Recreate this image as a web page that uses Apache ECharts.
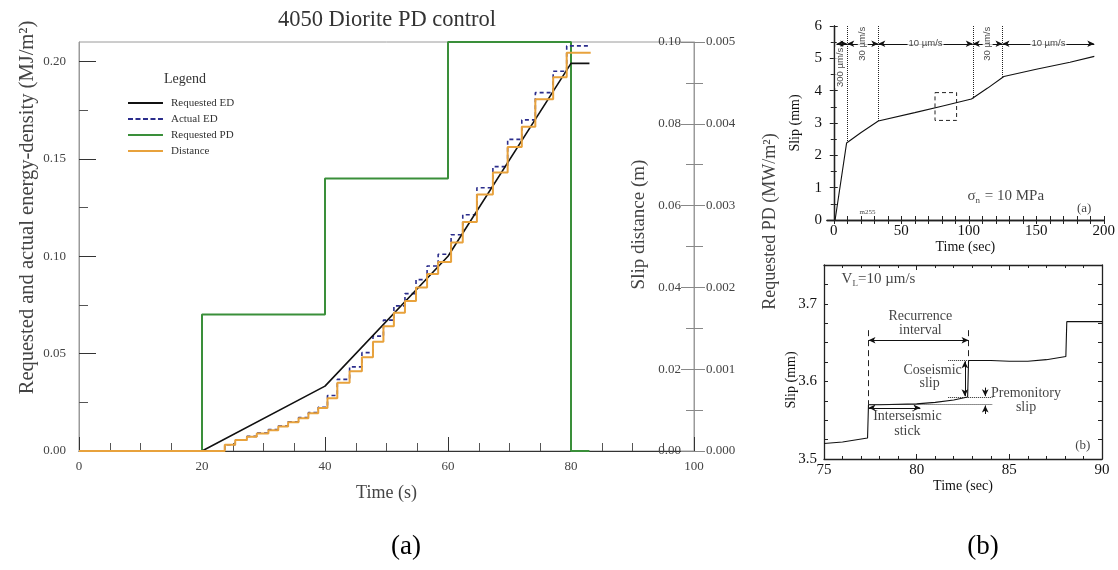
<!DOCTYPE html>
<html>
<head>
<meta charset="utf-8">
<title>4050 Diorite PD control</title>
<script src="https://cdn.jsdelivr.net/npm/echarts@6/dist/echarts.min.js"></script>
<style>
  html, body { margin: 0; padding: 0; background: #fff; }
  #chart { width: 1118px; height: 570px; }
</style>
</head>
<body>
<div id="chart"></div>
<script>
// ---------- (a) 4050 Diorite PD control ----------
var pdTime = [0, 20, 40, 60, 80, 83];
var pdValue = [0, 0.00167, 0.00333, 0.005, 0, 0];          // MW/m2
var edTime = [0, 20, 40, 60, 80, 83];
var edValue = [0, 0, 0.0333, 0.1, 0.199, 0.199];           // requested ED, MJ/m2
// stick-slip steps (time the step happens)
var stepTime = [0, 23.7, 25.4, 27.3, 28.9, 30.8, 32.4, 34.0, 35.7, 37.3, 38.9, 40.4, 42.0, 44.0, 46.0,
  47.8, 49.5, 51.2, 53.0, 54.8, 56.6, 58.4, 60.5, 62.4, 64.7, 67.3, 69.7, 72.0, 74.2, 77.1, 79.3, 83.2];
var actualEd = [0, 0.0032, 0.0057, 0.0075, 0.0092, 0.0110, 0.0128, 0.0150, 0.0172, 0.0198, 0.0225, 0.0285,
  0.0368, 0.0432, 0.0505, 0.0590, 0.0672, 0.0745, 0.0808, 0.0880, 0.0950, 0.1010, 0.1110, 0.1213, 0.1352,
  0.1460, 0.1600, 0.1700, 0.1840, 0.1950, 0.2080, 0.2080];
var distanceM = [0, 0.0015, 0.0027, 0.0035, 0.0043, 0.0051, 0.0060, 0.0070, 0.0080, 0.0092, 0.0105, 0.0129,
  0.0167, 0.0195, 0.0229, 0.0267, 0.0305, 0.0338, 0.0367, 0.0400, 0.0433, 0.0462, 0.0510, 0.0560, 0.0627,
  0.0681, 0.0743, 0.0793, 0.0860, 0.0914, 0.0974, 0.0974];
var edTicks = [0, 0.05, 0.1, 0.15, 0.2];
var edMinorTicks = [0.025, 0.075, 0.125, 0.175];

// ---------- (b) upper: slip history ----------
var runTime = [1, 9.5, 20, 33, 60, 80, 102, 114, 126, 150, 175, 193];
var runSlip = [0, 2.38, 2.7, 3.06, 3.32, 3.52, 3.74, 4.08, 4.44, 4.66, 4.88, 5.06];
var velChangeTime = [10, 33, 103, 125];
var velChangeSlip = [2.4, 3.06, 3.76, 4.43];
var velRow = 5.45;
var velSegStart = [2, 10, 33, 103, 125];
var velSegEnd = [10, 33, 103, 125, 193];
var velLabel = ['300 µm/s', '30 µm/s', '10 µm/s', '30 µm/s', '10 µm/s'];
var velLabelX = [4.8, 21.5, 68, 114, 159];
var velLabelY = [4.72, 5.45, 5.45, 5.45, 5.45];
var velLabelRotate = [90, 90, 0, 90, 0];
var runLabels = [0, 50, 100, 150, 200];
var runTicks = [0, 10, 20, 30, 40, 50, 60, 70, 80, 90, 100, 110, 120, 130, 140, 150, 160, 170, 180, 190, 200];
var boxTime = [75, 91];
var boxSlip = [3.08, 3.94];

// ---------- (b) lower: zoom on stick-slip ----------
var zoomTime = [75, 76, 77.35, 77.4, 78, 80, 81, 82, 82.75, 82.8, 84, 85, 86, 87, 88.05, 88.1, 90];
var zoomSlip = [3.520, 3.522, 3.527, 3.570, 3.570, 3.571, 3.573, 3.576, 3.580, 3.627, 3.627, 3.626, 3.626,
  3.628, 3.632, 3.677, 3.677];
var zoomYLabels = [3.5, 3.6, 3.7];
var zoomYTicks = [3.5, 3.525, 3.55, 3.575, 3.6, 3.625, 3.65, 3.675, 3.7, 3.725, 3.75];
var noteText = ['Recurrence', 'interval', 'Coseismic', 'slip', 'Premonitory', 'slip', 'Interseismic', 'stick', '(b)'];
var noteX = [80.2, 80.2, 80.86, 80.7, 85.9, 85.9, 79.5, 79.5, 88.96];
var noteY = [3.684, 3.666, 3.614, 3.597, 3.584, 3.566, 3.5545, 3.536, 3.517];

var SERIF = 'Liberation Serif';
var SANS = 'Liberation Sans';

// legend icons: thin line (solid / dashed) inside a 35x12 box
var BOX = ' M0,0h0.01v0.01h-0.01z M34.99,12h0.01v0.01h-0.01z';
var ICON_SOLID = 'path://M0,5h35v2h-35z' + BOX;
var ICON_DASH = 'path://M0,5h5v2h-5z M7.5,5h5v2h-5z M15,5h5v2h-5z M22.5,5h5v2h-5z M30,5h5v2h-5z' + BOX;

function zip(xs, ys) {
  return xs.map(function (x, i) { return [x, ys[i]]; });
}

function seg(x1, y1, x2, y2, style, s1, s2) {
  return [
    { coord: [x1, y1], symbol: s1 || 'none', lineStyle: style },
    { coord: [x2, y2], symbol: s2 || 'none', lineStyle: style }
  ];
}

var dotted = { type: 'dotted', width: 1, color: '#222' };
var dashedLong = { type: [6, 4], width: 1, color: '#222' };
var solid = { type: 'solid', width: 1, color: '#111' };

// upper (b) annotation lines
var runLines = [];
velChangeTime.forEach(function (t, i) {
  runLines.push(seg(t, 6, t, velChangeSlip[i], dotted));
});
velSegStart.forEach(function (s, i) {
  runLines.push(seg(s, velRow, velSegEnd[i], velRow, solid, 'arrow', 'arrow'));
});

// lower (b) annotation lines
var zoomLines = [
  seg(77.4, 3.666, 77.4, 3.570, dashedLong),
  seg(82.8, 3.666, 82.8, 3.627, dashedLong),
  seg(77.4, 3.653, 82.8, 3.653, solid, 'arrow', 'arrow'),
  seg(81.7, 3.627, 82.8, 3.627, dotted),
  seg(81.7, 3.580, 84.1, 3.580, dotted),
  seg(77.4, 3.570, 84.1, 3.570, dotted),
  seg(82.6, 3.581, 82.6, 3.626, solid, 'arrow', 'arrow'),
  seg(83.7, 3.592, 83.7, 3.581, solid, 'none', 'arrow'),
  seg(83.7, 3.558, 83.7, 3.569, solid, 'none', 'arrow'),
  seg(77.4, 3.566, 80.2, 3.566, solid, 'arrow', 'arrow')
];

var velNotes = velLabel.map(function (txt, i) {
  return {
    name: txt,
    value: [velLabelX[i], velLabelY[i]],
    label: { rotate: velLabelRotate[i], fontFamily: SANS, fontSize: 9.5, backgroundColor: '#fff', padding: [0, 1] }
  };
});
velNotes.push({
  name: 'sigma', value: [99, 0.73],
  label: {
    align: 'left', formatter: '{a|σ}{s|n}{a| = 10 MPa}',
    rich: { a: { fontSize: 15, fontFamily: SERIF, color: '#111' }, s: { fontSize: 9, fontFamily: SERIF, color: '#111', padding: [9, 1, 0, 0] } }
  }
});
velNotes.push({ name: '(a)', value: [185.5, 0.36], label: { fontSize: 13 } });
velNotes.push({ name: 'm255', value: [25, 0.24], label: { fontSize: 7 } });

var zoomNotes = noteText.map(function (txt, i) {
  return { name: txt, value: [noteX[i], noteY[i]], label: { fontSize: txt === '(b)' ? 13 : 14 } };
});
zoomNotes.push({
  name: 'VL', value: [75.95, 3.732],
  label: {
    align: 'left', formatter: '{a|V}{s|L}{a|=10 µm/s}',
    rich: { a: { fontSize: 15, fontFamily: SERIF, color: '#111' }, s: { fontSize: 9, fontFamily: SERIF, color: '#111', padding: [9, 0, 0, 0] } }
  }
});

function frameAxis(extra) {
  var base = {
    type: 'value',
    axisLine: { show: true, lineStyle: { color: '#222', width: 1.3 } },
    axisTick: { show: true, inside: true, length: 4, lineStyle: { color: '#222' } },
    axisLabel: { show: false },
    splitLine: { show: false }
  };
  return Object.assign(base, extra);
}

var chart = echarts.init(document.getElementById('chart'));

var option = {
  animation: false,
  textStyle: { fontFamily: SERIF },
  title: [
    { text: '4050 Diorite PD control', left: 387, top: 9, textAlign: 'center', padding: 0,
      textStyle: { fontSize: 22.5, fontWeight: 'normal', color: '#333', fontFamily: SERIF } },
    { text: 'Legend', left: 185, top: 72, textAlign: 'center', padding: 0,
      textStyle: { fontSize: 14, fontWeight: 'normal', color: '#333', fontFamily: SERIF } },
    { text: '(a)', left: 406, top: 533, textAlign: 'center', padding: 0,
      textStyle: { fontSize: 27, fontWeight: 'normal', color: '#000', fontFamily: SERIF } },
    { text: '(b)', left: 983, top: 533, textAlign: 'center', padding: 0,
      textStyle: { fontSize: 27, fontWeight: 'normal', color: '#000', fontFamily: SERIF } }
  ],
  legend: {
    data: [
      { name: 'Requested ED', icon: ICON_SOLID },
      { name: 'Actual ED', icon: ICON_DASH },
      { name: 'Requested PD', icon: ICON_SOLID },
      { name: 'Distance', icon: ICON_SOLID }
    ],
    orient: 'vertical', left: 128, top: 97, padding: 0,
    itemWidth: 35, itemHeight: 12, itemGap: 4,
    textStyle: { fontSize: 11, color: '#333', fontFamily: SERIF, padding: [0, 0, 0, 3] }
  },
  grid: [
    { left: 79, right: 424, top: 42, bottom: 119, show: true, borderColor: '#9a9a9a', borderWidth: 1 },
    { left: 827, right: 14, top: 26, bottom: 350 },
    { left: 824, right: 16, top: 265, bottom: 111 }
  ],
  xAxis: [
    {
      gridIndex: 0, type: 'value', min: 0, max: 100, interval: 20,
      axisLine: { lineStyle: { color: '#333', width: 1.2 } },
      axisTick: { inside: true, length: 14, lineStyle: { color: '#333' } },
      minorTick: { show: true, splitNumber: 4, length: 8, lineStyle: { color: '#555' } },
      axisLabel: { fontSize: 13, color: '#444', margin: 9 },
      splitLine: { show: false },
      name: 'Time (s)', nameLocation: 'middle', nameGap: 33,
      nameTextStyle: { fontSize: 18, color: '#444' }
    },
    frameAxis({
      gridIndex: 1, min: -5, max: 200, position: 'bottom',
      axisTick: { show: true, inside: true, length: 4, customValues: runTicks, lineStyle: { color: '#222' } },
      axisLabel: { show: true, customValues: runLabels, fontSize: 15, color: '#111', margin: 4 },
      name: 'Time (sec)', nameLocation: 'middle', nameGap: 20,
      nameTextStyle: { fontSize: 14, color: '#111' }
    }),
    frameAxis({
      gridIndex: 1, min: -5, max: 200, position: 'top',
      axisTick: { show: true, inside: true, length: 4, customValues: runTicks, lineStyle: { color: '#222' } }
    }),
    frameAxis({
      gridIndex: 2, min: 75, max: 90, interval: 5, position: 'bottom',
      axisTick: { show: true, inside: true, length: 5, lineStyle: { color: '#222' } },
      minorTick: { show: true, splitNumber: 5, length: 3, lineStyle: { color: '#222' } },
      axisLabel: { show: true, fontSize: 15, color: '#111', margin: 4 },
      name: 'Time (sec)', nameLocation: 'middle', nameGap: 19,
      nameTextStyle: { fontSize: 14, color: '#111' }
    }),
    frameAxis({
      gridIndex: 2, min: 75, max: 90, interval: 5, position: 'top',
      axisTick: { show: true, inside: true, length: 5, lineStyle: { color: '#222' } },
      minorTick: { show: true, splitNumber: 5, length: 3, lineStyle: { color: '#222' } }
    })
  ],
  yAxis: [
    {
      gridIndex: 0, type: 'value', min: 0, max: 0.21, position: 'left',
      axisLine: { show: true, lineStyle: { color: '#9a9a9a' } },
      axisTick: { show: true, inside: true, length: 17, customValues: edTicks, lineStyle: { color: '#333' } },
      axisLabel: { customValues: edTicks, fontSize: 13, color: '#444', margin: 13,
        formatter: function (v) { return v.toFixed(2); } },
      splitLine: { show: false },
      name: 'Requested and actual energy-density (MJ/m²)', nameLocation: 'middle', nameGap: 41,
      nameMoveOverlap: false,
      nameTextStyle: { fontSize: 20.5, color: '#444', padding: [0, 0, 0, 78] }
    },
    {
      gridIndex: 0, type: 'value', min: 0, max: 0.21, position: 'left',
      axisLine: { show: false },
      axisTick: { show: true, inside: true, length: 9, customValues: edMinorTicks, lineStyle: { color: '#555' } },
      axisLabel: { show: false },
      splitLine: { show: false }
    },
    {
      gridIndex: 0, type: 'value', min: 0, max: 0.1, interval: 0.02, position: 'right',
      axisLine: { show: true, lineStyle: { color: '#9a9a9a' } },
      axisTick: { show: true, inside: true, length: 13, lineStyle: { color: '#888' } },
      minorTick: { show: true, splitNumber: 2, length: 8, lineStyle: { color: '#888' } },
      axisLabel: { inside: true, fontSize: 13, color: '#444', margin: 13,
        formatter: function (v) { return v.toFixed(2); } },
      splitLine: { show: false }
    },
    {
      gridIndex: 0, type: 'value', min: 0, max: 0.005, interval: 0.001, position: 'right',
      axisLine: { show: false },
      axisTick: { show: true, inside: false, length: 11, lineStyle: { color: '#888' } },
      minorTick: { show: true, splitNumber: 2, length: 9, lineStyle: { color: '#888' } },
      axisLabel: { fontSize: 13, color: '#444', margin: 12,
        formatter: function (v) { return v.toFixed(3); } },
      splitLine: { show: false },
      name: 'Requested PD (MW/m²)', nameLocation: 'middle', nameGap: 67,
      nameTextStyle: { fontSize: 18, color: '#444', padding: [0, 0, 0, 50] }
    },
    frameAxis({
      gridIndex: 1, min: 0, max: 6, interval: 1, position: 'left',
      minorTick: { show: true, splitNumber: 2, length: 3, lineStyle: { color: '#222' } },
      axisLabel: { show: true, fontSize: 15, color: '#111', margin: 5 },
      name: 'Slip (mm)', nameLocation: 'middle', nameGap: 25,
      nameTextStyle: { fontSize: 14, color: '#111' }
    }),
    frameAxis({
      gridIndex: 1, min: 0, max: 6, interval: 1, position: 'right',
      minorTick: { show: true, splitNumber: 2, length: 3, lineStyle: { color: '#222' } }
    }),
    frameAxis({
      gridIndex: 2, min: 3.5, max: 3.75, position: 'left',
      axisTick: { show: true, inside: true, length: 4, customValues: zoomYTicks, lineStyle: { color: '#222' } },
      axisLabel: { show: true, customValues: zoomYLabels, fontSize: 15, color: '#111', margin: 7,
        formatter: function (v) { return v.toFixed(1); } },
      name: 'Slip (mm)', nameLocation: 'middle', nameGap: 26, nameMoveOverlap: false,
      nameTextStyle: { fontSize: 14, color: '#111', padding: [0, 36, 0, 0] }
    }),
    frameAxis({
      gridIndex: 2, min: 3.5, max: 3.75, position: 'right',
      axisTick: { show: true, inside: true, length: 4, customValues: zoomYTicks, lineStyle: { color: '#222' } }
    }),
    {
      // carries only the "Slip distance (m)" title, sitting inside the plot left of the right axis
      gridIndex: 0, type: 'value', min: 0, max: 0.1, position: 'right', offset: -64,
      axisLine: { show: false }, axisTick: { show: false }, axisLabel: { show: false },
      splitLine: { show: false },
      name: 'Slip distance (m)', nameLocation: 'middle', nameGap: 0,
      nameTextStyle: { fontSize: 19, color: '#444', padding: [0, 0, 0, 44] }
    }
  ],
  series: [
    {
      name: 'Requested PD', type: 'line', xAxisIndex: 0, yAxisIndex: 3, step: 'end',
      data: zip(pdTime, pdValue), symbol: 'none', z: 2,
      lineStyle: { color: '#3a8f3a', width: 2 }, itemStyle: { color: '#3a8f3a' }
    },
    {
      name: 'Actual ED', type: 'line', xAxisIndex: 0, yAxisIndex: 0, step: 'end',
      data: zip(stepTime, actualEd), symbol: 'none', z: 3,
      lineStyle: { color: '#2b2d8c', width: 1.6, type: [4, 3] }, itemStyle: { color: '#2b2d8c' }
    },
    {
      name: 'Requested ED', type: 'line', xAxisIndex: 0, yAxisIndex: 0,
      data: zip(edTime, edValue), symbol: 'none', z: 4,
      lineStyle: { color: '#111', width: 1.6 }, itemStyle: { color: '#111' }
    },
    {
      name: 'Distance', type: 'line', xAxisIndex: 0, yAxisIndex: 2, step: 'end',
      data: zip(stepTime, distanceM), symbol: 'none', z: 5,
      lineStyle: { color: '#e8a23c', width: 2 }, itemStyle: { color: '#e8a23c' }
    },
    {
      type: 'line', xAxisIndex: 1, yAxisIndex: 4, data: zip(runTime, runSlip),
      symbol: 'none', silent: true, lineStyle: { color: '#111', width: 1.1 },
      markLine: { silent: true, symbol: ['none', 'none'], symbolSize: [5, 7], label: { show: false }, data: runLines },
      markArea: {
        silent: true,
        itemStyle: { color: 'rgba(0,0,0,0)', borderColor: '#222', borderWidth: 1, borderType: [4, 3] },
        data: [[{ coord: [boxTime[0], boxSlip[1]] }, { coord: [boxTime[1], boxSlip[0]] }]]
      }
    },
    {
      type: 'scatter', xAxisIndex: 1, yAxisIndex: 4, data: velNotes, z: 6, silent: true,
      symbolSize: 1, itemStyle: { color: 'rgba(0,0,0,0)' },
      label: { show: true, position: 'inside', formatter: '{b}', color: '#111', fontFamily: SERIF }
    },
    {
      type: 'line', xAxisIndex: 3, yAxisIndex: 6, data: zip(zoomTime, zoomSlip),
      symbol: 'none', silent: true, lineStyle: { color: '#111', width: 1.1 },
      markLine: { silent: true, symbol: ['none', 'none'], symbolSize: [5, 7], label: { show: false }, data: zoomLines }
    },
    {
      type: 'scatter', xAxisIndex: 3, yAxisIndex: 6, data: zoomNotes, z: 6, silent: true,
      symbolSize: 1, itemStyle: { color: 'rgba(0,0,0,0)' },
      label: { show: true, position: 'inside', formatter: '{b}', color: '#111', fontFamily: SERIF }
    }
  ]
};

chart.setOption(option);
</script>
</body>
</html>
